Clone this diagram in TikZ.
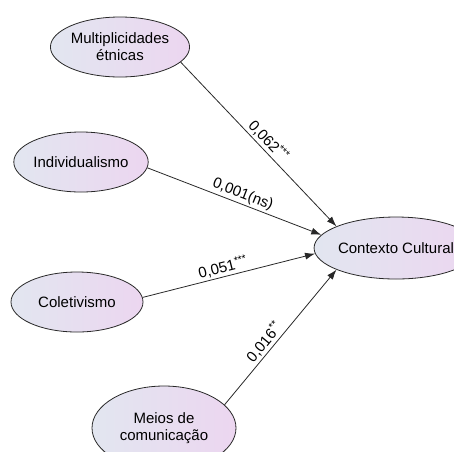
\documentclass[tikz,border=0pt]{standalone}
\usepackage{fontspec}
\setmainfont{Liberation Sans}
\usetikzlibrary{arrows.meta, shapes.geometric}

\definecolor{fillleft}{RGB}{226,230,240}
\definecolor{fillright}{RGB}{236,214,240}
\definecolor{edgegray}{RGB}{40,40,40}

\begin{document}
\begin{tikzpicture}[
    x=1pt, y=-1pt,
    construct/.style={
        ellipse,
        draw=edgegray,
        line width=0.8pt,
        left color=fillleft,
        right color=fillright,
        align=center,
        inner sep=0pt,
        minimum width=130pt,
        minimum height=60pt,
        font=\fontsize{15}{17}\selectfont
    },
    arrow/.style={
        -{Latex[length=10pt,width=7pt]},
        line width=0.8pt,
        draw=edgegray
    },
    coef/.style={
        sloped,
        above,
        inner sep=2pt,
        font=\fontsize{15}{17}\selectfont
    }
]
\useasboundingbox (0,0) rectangle (454,451);

\node[construct] (multi) at (120,47)
{Multiplicidades\\étnicas};

\node[construct] (indiv) at (81,162)
{Individualismo};

\node[construct, minimum width=132pt] (colet) at (77,302)
{Coletivismo};

\node[construct, minimum width=144pt, minimum height=84pt] (meios) at (164,428)
{Meios de\\comunicação};

\node[construct, minimum width=126pt, minimum height=62pt] (contexto) at (396,248)
{Contexto Cultural};

\draw[arrow] (multi.-14) -- node[coef, pos=0.52] {0,062\textsuperscript{***}} (contexto.160);
\draw[arrow] (indiv.-5) -- node[coef, pos=0.53] {0,001(ns)} (contexto.170);
\draw[arrow] (colet.4) -- node[coef, pos=0.48] {0,051\textsuperscript{***}} (contexto.184);
\draw[arrow] (meios.21) -- node[coef, pos=0.42] {0,016\textsuperscript{**}} (contexto.200);
\end{tikzpicture}
\end{document}
